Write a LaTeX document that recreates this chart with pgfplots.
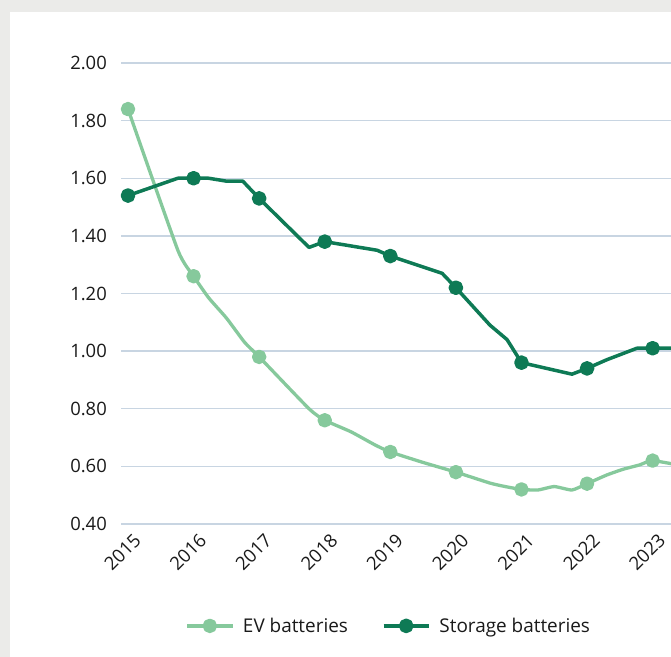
\documentclass[border=0pt]{standalone}
\usepackage{fontspec}
\setmainfont{Open Sans}
\usepackage{pgfplots}
\pgfplotsset{compat=1.18}
\definecolor{evgreen}{HTML}{86C99C}
\definecolor{stgreen}{HTML}{0E7A55}
\definecolor{gridc}{HTML}{C8D5E2}
\definecolor{bggrey}{HTML}{EBEBE9}
\definecolor{txt}{HTML}{1A1A1A}
\pgfplotstableread{
x y
2015 1.54
2015.76 1.60
2016 1.60
2016.23 1.60
2016.5 1.59
2016.75 1.59
2017 1.53
2017.76 1.36
2018 1.38
2018.8 1.35
2019 1.33
2019.79 1.27
2020 1.22
2020.52 1.09
2020.78 1.04
2021 0.96
2021.77 0.92
2022 0.94
2022.3 0.97
2022.76 1.01
2023 1.01
2023.5 1.01
}\storage
\pgfplotstableread{
x y
2015 1.84
2015.76 1.35
2016 1.26
2016.23 1.185
2016.5 1.115
2016.78 1.03
2017 0.98
2017.76 0.80
2018 0.76
2018.4 0.72
2018.77 0.674
2019 0.65
2019.48 0.615
2020 0.58
2020.52 0.542
2020.75 0.53
2021 0.52
2021.25 0.518
2021.5 0.53
2021.77 0.518
2022 0.54
2022.3 0.57
2022.55 0.59
2022.8 0.605
2023 0.62
2023.5 0.60
}\ev
\begin{document}
\begin{tikzpicture}
\fill[bggrey] (0,0) rectangle (671bp,657bp);
\fill[white] (10bp,0) rectangle (671bp,645bp);
\begin{axis}[
  at={(121bp,133bp)}, anchor=south west,
  scale only axis, width=550bp, height=461bp,
  xmin=2014.893, xmax=2023.28, ymin=0.4, ymax=2.0,
  axis line style={draw=none},
  major tick length=0pt,
  ymajorgrids, grid style={gridc, line width=1.3bp},
  xtick={2015,2016,2017,2018,2019,2020,2021,2022,2023},
  ytick={0.4,0.6,0.8,1.0,1.2,1.4,1.6,1.8,2.0},
  /pgf/number format/assume math mode=true,
  xticklabel style={/pgf/number format/1000 sep={}, anchor=north east, inner sep=0pt, xshift=4.5bp, yshift=-8bp, rotate=45},
  yticklabel style={/pgf/number format/.cd, fixed, fixed zerofill, precision=2, /tikz/.cd, inner sep=0pt, xshift=-14bp},
  tick label style={font=\fontsize{18.5}{22}\selectfont, text=txt},
  legend style={at={(axis description cs:0.487,-0.221)}, anchor=center, draw=none, fill=none,
    font=\fontsize{19}{22}\selectfont, text=txt,
    /tikz/every odd column/.append style={column sep=7bp},
    /tikz/every even column/.append style={column sep=32bp}},
  legend columns=2,
  legend cell align=left,
  legend image code/.code={\draw[#1, mark indices={2}] plot coordinates {(0bp,0bp)(22.5bp,0bp)(45bp,0bp)};},
]
\addplot[evgreen, line width=3.3bp, smooth, tension=0.3, line join=round, mark=*, mark size=5.6bp,
  mark options={solid}, mark indices={1,3,7,9,12,14,17,21,25}] table[x=x,y=y] {\ev};
\addlegendentry{EV batteries}
\addplot[stgreen, line width=3.5bp, line join=round, mark=*, mark size=5.6bp,
  mark options={solid}, mark indices={1,3,7,9,11,13,16,18,21}] table[x=x,y=y] {\storage};
\addlegendentry{Storage batteries}
\end{axis}
\pgfresetboundingbox
\useasboundingbox (0,0) rectangle (671bp,657bp);
\end{tikzpicture}
\end{document}
